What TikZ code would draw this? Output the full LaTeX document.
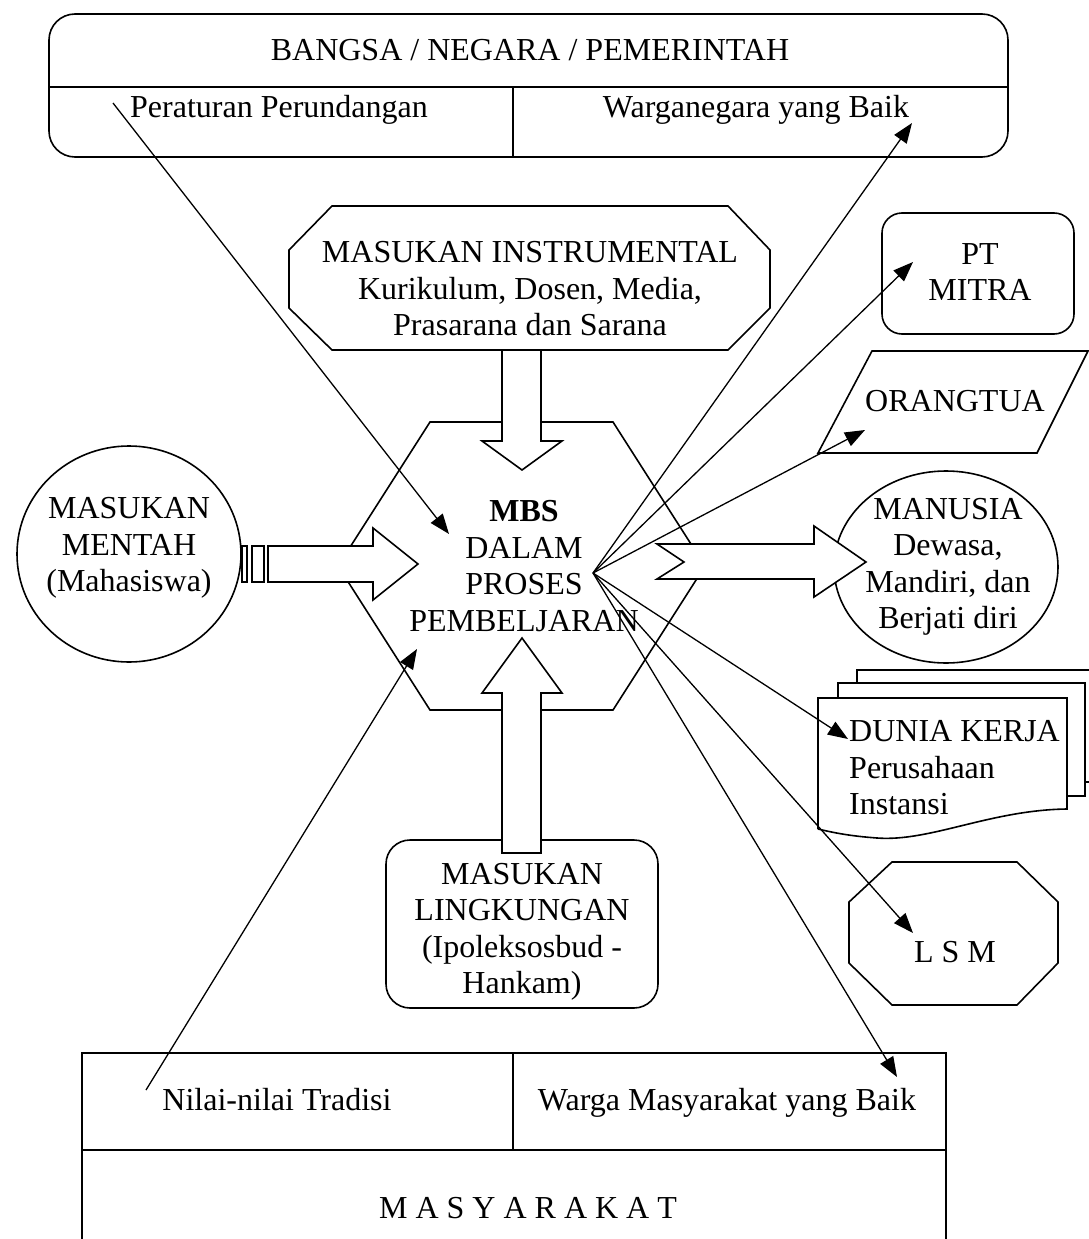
\documentclass[tikz,border=0pt]{standalone}
\usepackage{fontspec}
\setmainfont{Liberation Serif}
\usetikzlibrary{arrows.meta, shapes.geometric, positioning}

\begin{document}
\begin{tikzpicture}[x=1pt, y=-1pt,
    box/.style={draw, line width=1.6pt, fill=white},
    rule/.style={line width=1.6pt},
    lbl/.style={font=\fontsize{32}{36.5}\selectfont, align=center, inner sep=0pt},
    link/.style={line width=1.3pt, -{Triangle[length=20pt,width=15pt]}}]
    \clip (0,0) rectangle (1089,1239);

    % Draw the outer boxes
    \draw[box, rounded corners=26pt] (49,14) rectangle (1008,157);
    \draw[rule] (49,87) -- (1008,87);
    \draw[rule] (513,87) -- (513,157);

    \draw[rule] (82,1260) -- (82,1053) -- (946,1053) -- (946,1260);
    \draw[rule] (82,1150) -- (946,1150);
    \draw[rule] (513,1053) -- (513,1150);

    % Draw the input shapes
    \draw[box] (332,206) -- (728,206) -- (770,250) -- (770,308) -- (728,350)
        -- (332,350) -- (289,308) -- (289,250) -- cycle;
    \draw[box] (430,422) -- (613,422) -- (705,566) -- (613,710) -- (430,710) -- (338,566) -- cycle;
    \draw[box] (129,554) ellipse [x radius=112pt, y radius=108pt];
    \draw[box, rounded corners=24pt] (386,840) rectangle (658,1008);

    % Draw the output shapes
    \draw[box, rounded corners=20pt] (882,213) rectangle (1074,334);
    \draw[box] (872,351) -- (1088,351) -- (1037,453) -- (818,453) -- cycle;
    \draw[box] (946,567) ellipse [x radius=112pt, y radius=96pt];
    \draw[box] (857,683) -- (857,670) -- (1102,670) -- (1102,782) -- (1085,782);
    \draw[box] (838,698) -- (838,683) -- (1085,683) -- (1085,796) -- (1067,796);
    \draw[box] (818,829) -- (818,698) -- (1067,698) -- (1067,809)
        .. controls (990,810) and (930,842) .. (877,838)
        .. controls (850,836) and (835,833) .. (818,829);
    \draw[box] (892,862) -- (1017,862) -- (1058,902) -- (1058,963) -- (1017,1005)
        -- (892,1005) -- (849,963) -- (849,902) -- cycle;

    % Draw the block arrows
    \draw[box] (502,350) -- (541,350) -- (541,441) -- (562,441) -- (522,470) -- (482,441) -- (502,441) -- cycle;
    \draw[box] (502,853) -- (502,693) -- (482,693) -- (522,638) -- (562,693) -- (541,693) -- (541,853) -- cycle;
    \draw[box] (242,546) rectangle (247,582);
    \draw[box] (252,546) rectangle (264,582);
    \draw[box] (268,546) -- (373,546) -- (373,528) -- (418,564) -- (373,600) -- (373,582) -- (268,582) -- cycle;
    \draw[box] (657,544) -- (814,544) -- (814,526) -- (866,562) -- (814,597) -- (814,579) -- (657,579) -- (684,562) -- cycle;

    % Add the texts
    \node[lbl, anchor=base] (bangsa) at (530,61) {BANGSA / NEGARA / PEMERINTAH};
    \node[lbl, anchor=base] (peraturan) at (279,117) {Peraturan Perundangan};
    \node[lbl, anchor=base] (warganegara) at (756,117) {Warganegara yang Baik};
    \node[lbl] (instrumental) at (530,289) {MASUKAN INSTRUMENTAL\\Kurikulum, Dosen, Media,\\Prasarana dan Sarana};
    \node[lbl] (mentah) at (129,548) {MASUKAN\\MENTAH\\(Mahasiswa)};
    \node[lbl] (mbs) at (524,566) {\textbf{MBS}\\DALAM\\PROSES\\PEMBELJARAN};
    \node[lbl] (lingkungan) at (522,932) {MASUKAN\\LINGKUNGAN\\(Ipoleksosbud -\\Hankam)};
    \node[lbl] (ptmitra) at (980,272) {PT\\MITRA};
    \node[lbl, anchor=base] (orangtua) at (955,411) {ORANGTUA};
    \node[lbl] (manusia) at (948,567) {MANUSIA\\Dewasa,\\Mandiri, dan\\Berjati diri};
    \node[lbl, align=left, anchor=west] (dunia) at (849,768) {DUNIA KERJA\\Perusahaan\\Instansi};
    \node[lbl, anchor=base] (lsm) at (955,962) {L S M};
    \node[lbl, anchor=base] (nilai) at (277,1110) {Nilai-nilai Tradisi};
    \node[lbl, anchor=base] (wargamasy) at (727,1110) {Warga Masyarakat yang Baik};
    \node[lbl, anchor=base] (masyarakat) at (528,1218) {M A S Y A R A K A T};

    % Draw the connectors
    \coordinate (fan) at (593,573);
    \coordinate (fromAturan) at (113,103);
    \coordinate (intoTop) at (449,534);
    \coordinate (fromNilai) at (146,1090);
    \coordinate (intoLow) at (417,649);
    \coordinate (toWarga) at (912,123);
    \coordinate (toMitra) at (913,262);
    \coordinate (toOrtu) at (865,430);
    \coordinate (toDunia) at (848,739);
    \coordinate (toLsm) at (913,933);
    \coordinate (toMasy) at (897,1077);

    \draw[link] (fromAturan) -- (intoTop);
    \draw[link] (fromNilai) -- (intoLow);
    \draw[link] (fan) -- (toWarga);
    \draw[link] (fan) -- (toMitra);
    \draw[link] (fan) -- (toOrtu);
    \draw[link] (fan) -- (toDunia);
    \draw[link] (fan) -- (toLsm);
    \draw[link] (fan) -- (toMasy);
\end{tikzpicture}
\end{document}
